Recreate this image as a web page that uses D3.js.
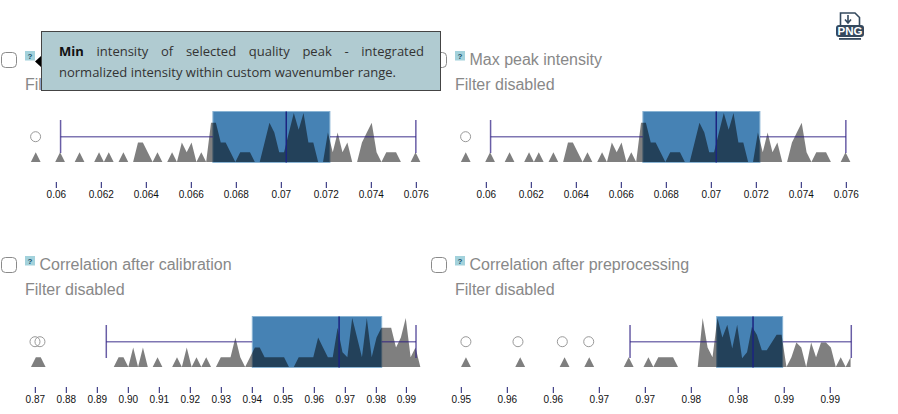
<!DOCTYPE html>
<html>
<head>
<meta charset="utf-8">
<script src="https://cdn.jsdelivr.net/npm/d3@7"></script>
<style>
  body { margin: 0; background: #fff; overflow: hidden; }
  svg { position: absolute; left: 0; top: 0; }
  text { font-family: "Liberation Sans", Arial, sans-serif; }
  #tooltip {
    position: absolute; left: 41px; top: 31px; width: 365px; height: 58px;
    padding: 0 16px 0 17px; background: #b0cbd1; border: 1px solid #444;
    font: 13px/21px "Open Sans", sans-serif; color: #333; text-align: justify;
  }
  #tooltip p { margin: 9px 0 0 0; }
  #tooltip b { color: #111; }
</style>
</head>
<body>
<svg></svg>
<script>
let width = 898
let height = 414

// histogram heights per bin
let peakCounts = [0,1,0,0,0,0,1,0,0,0,1,0,0,0,1,0,1,0,0,1,0,0,2,2,1,0,1,0,0,1,0,2,1,2,0,1,0,4,4,2,2,1,0,1,1,1,0,0,2,4,3,1,1,3,5,3.3,5,2,2,0,0,3,1,3,1,2,0,0,2,3,4,1,0,1,1,1,0,0,0,1,0]
let calibrationCounts = [0,1,1,0,0,0,0,0,0,0,0,0,0,0,0,0,0,0,1,1,0,2,0,2,0,0,1,0,0,0,1,0,2,0,1,0,1,0,0,1,1,1,3,1,0,1,2,2,1,1,1,1,1,0,0,1,1,1,1,3,2,1,1,4,1.5,1,5,3,1,5,1,3,4,4,4,2,3,5,1,2,0]
let preprocessingCounts = [0,1,0,0,0,0,0,0,0,0,0,0,1,0,0,0,0,0,0,0,0,1,0,0,0,0,1,0,0,0,0,0,0,0,1,0,0,0,1,0,1,1,1,1,0,0,0,0,0,5,2,1,5,3,4.3,1.9,4.3,0.9,1.5,4.1,3.3,1.7,1.7,2.5,3.3,3.3,0,1,2.5,2,0,2.5,1,2.5,2.5,2,0,1,0,1]

// box plot numbers: low whisker, q1, median, q3, high whisker
let peakBox = [0.06019, 0.06696, 0.07022, 0.07216, 0.07598]
let calibrationBox = [0.8929, 0.94, 0.968, 0.98174, 0.99281]
let preprocessingBox = [0.96834, 0.97776, 0.98171, 0.98493, 0.99239]

let peakOutliers = [0.05908]
let calibrationOutliers = [0.8699, 0.8715]
let preprocessingOutliers = [0.9505, 0.95616, 0.96098, 0.96385]

let peakTicks = [0.06, 0.062, 0.064, 0.066, 0.068, 0.07, 0.072, 0.074, 0.076]
let peakLabels = ["0.06", "0.062", "0.064", "0.066", "0.068", "0.07", "0.072", "0.074", "0.076"]
let calibrationTicks = [0.87, 0.88, 0.89, 0.90, 0.91, 0.92, 0.93, 0.94, 0.95, 0.96, 0.97, 0.98, 0.9897]
let calibrationLabels = ["0.87", "0.88", "0.89", "0.90", "0.91", "0.92", "0.93", "0.94", "0.95", "0.96", "0.97", "0.98", "0.99"]
let preprocessingTicks = [0.95, 0.955, 0.96, 0.965, 0.97, 0.975, 0.9801, 0.9851, 0.9901]
let preprocessingLabels = ["0.95", "0.96", "0.96", "0.97", "0.97", "0.98", "0.98", "0.99", "0.99"]

// first panel: the popup hides its title and most of the filter line
let panels = [
  { title: "", filter: "Fil", left: 0, top: 0, domain: [0.06, 0.076], range: [56.3, 416.3],
    binStart: 0.05887, binStep: 0.0002164, counts: peakCounts, box: peakBox, outliers: peakOutliers, ticks: peakTicks, labels: peakLabels },
  { title: "Max peak intensity", filter: "Filter disabled", left: 430, top: 0, domain: [0.06, 0.076], range: [56.3, 416.3],
    binStart: 0.05887, binStep: 0.0002164, counts: peakCounts, box: peakBox, outliers: peakOutliers, ticks: peakTicks, labels: peakLabels },
  { title: "Correlation after calibration", filter: "Filter disabled", left: 0, top: 205, domain: [0.87, 0.98], range: [35.3, 376.3],
    binStart: 0.86861, binStep: 0.00157, counts: calibrationCounts, box: calibrationBox, outliers: calibrationOutliers, ticks: calibrationTicks, labels: calibrationLabels },
  { title: "Correlation after preprocessing", filter: "Filter disabled", left: 430, top: 205, domain: [0.95, 0.99], range: [31.3, 399.3],
    binStart: 0.94997, binStep: 0.000536, counts: preprocessingCounts, box: preprocessingBox, outliers: preprocessingOutliers, ticks: preprocessingTicks, labels: preprocessingLabels }
]

let svg = d3.select("svg").attr("width", width).attr("height", height)

let yScale = d3.scaleLinear().domain([0, 5]).range([162, 113])

let drawPanel = (panel) => {
  let g = svg.append("g").attr("transform", "translate(" + panel.left + "," + panel.top + ")")
  let xScale = d3.scaleLinear().domain(panel.domain).range(panel.range)

  g.append("rect")
   .attr("x", 1.5).attr("y", 52.5).attr("width", 15).attr("height", 15).attr("rx", 4)
   .attr("fill", "#fff").attr("stroke", "#8a8a8a")
  g.append("rect")
   .attr("x", 25).attr("y", 51).attr("width", 10).attr("height", 9.5)
   .attr("fill", "#a3d2dc")
  g.append("text")
   .attr("x", 30).attr("y", 58.5).attr("text-anchor", "middle")
   .attr("font-size", 8).attr("font-weight", "bold").attr("fill", "#20506a")
   .text("?")
  g.append("text")
   .attr("x", 39.5).attr("y", 65).attr("font-size", 16).attr("fill", "#888")
   .text(panel.title)
  g.append("text")
   .attr("x", 25).attr("y", 90).attr("font-size", 16).attr("fill", "#888")
   .text(panel.filter)

  let box = panel.box
  g.append("rect")
   .attr("x", xScale(box[1])).attr("y", 111.5)
   .attr("width", xScale(box[3]) - xScale(box[1])).attr("height", 51)
   .attr("fill", "steelblue").attr("stroke", "#8ab4d4").attr("stroke-width", 1)

  let area = d3.area()
               .x((d, i) => xScale(panel.binStart + i * panel.binStep))
               .y0(yScale(0))
               .y1(d => yScale(d))
  g.append("path")
   .datum(panel.counts)
   .attr("d", area)
   .attr("fill", "#000").attr("fill-opacity", 0.5)

  let whisker = (a, b) => {
    g.append("line")
     .attr("x1", xScale(a)).attr("x2", xScale(b)).attr("y1", 136.7).attr("y2", 136.7)
     .attr("stroke", "#2a1a80").attr("stroke-opacity", 0.6).attr("stroke-width", 1.5)
  }
  whisker(box[0], box[1])
  whisker(box[3], box[4])
  ;[box[0], box[4]].forEach(v => {
    g.append("line")
     .attr("x1", xScale(v)).attr("x2", xScale(v)).attr("y1", 120).attr("y2", 153)
     .attr("stroke", "#2a1a80").attr("stroke-opacity", 0.7).attr("stroke-width", 1.5)
  })
  g.append("line")
   .attr("x1", xScale(box[2])).attr("x2", xScale(box[2])).attr("y1", 111.5).attr("y2", 162.5)
   .attr("stroke", "#1c2480").attr("stroke-width", 1.5)

  g.selectAll("circle")
   .data(panel.outliers)
   .enter()
   .append("circle")
   .attr("cx", d => xScale(d)).attr("cy", 136.7).attr("r", 5)
   .attr("fill", "none").attr("stroke", "#999")

  let xAxis = d3.axisBottom(xScale)
                .tickValues(panel.ticks)
                .tickFormat((d, i) => panel.labels[i])
                .tickSizeOuter(0)
                .offset(0)
  let axisG = g.append("g")
               .attr("transform", "translate(0,182)")
               .call(xAxis)
  axisG.select(".domain").remove()
  axisG.selectAll(".tick line").attr("stroke", "#1a1a70")
  axisG.selectAll(".tick text")
       .attr("font-size", 10).attr("font-family", "'Liberation Sans', Arial, sans-serif").attr("fill", "#111")
}

panels.forEach(drawPanel)

// PNG download icon, top right
let icon = svg.append("g").attr("transform", "translate(836,12)")
icon.append("path")
    .attr("d", "M4.5 13V1H19L23.5 5.5V13")
    .attr("fill", "#fff").attr("stroke", "#34495e").attr("stroke-width", 1.6)
icon.append("path")
    .attr("d", "M12 3V10M9 7.5L12 11L15 7.5")
    .attr("fill", "none").attr("stroke", "#34495e").attr("stroke-width", 1.6)
icon.append("rect")
    .attr("x", 0).attr("y", 13).attr("width", 28).attr("height", 12).attr("rx", 3)
    .attr("fill", "#34495e")
icon.append("text")
    .attr("x", 14).attr("y", 23).attr("text-anchor", "middle")
    .attr("font-size", 11.5).attr("font-weight", "bold").attr("fill", "#fff")
    .text("PNG")
icon.append("rect")
    .attr("x", 3).attr("y", 26).attr("width", 22).attr("height", 1.8)
    .attr("fill", "#34495e")

// help popup that covers the first title
svg.append("path")
   .attr("d", "M35 61.5L41 56V67Z")
   .attr("fill", "#000")
let tooltip = d3.select("body").append("div").attr("id", "tooltip")
tooltip.append("p").html("<b>Min</b> intensity of selected quality peak - integrated normalized intensity within custom wavenumber range.")
</script>
</body>
</html>
